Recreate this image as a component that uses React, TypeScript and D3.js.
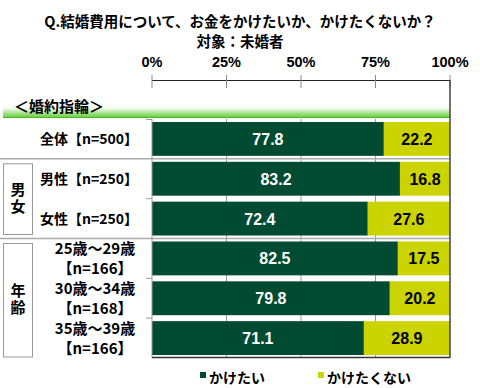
import React from "react"
import * as d3 from "d3"

// chart data
const labels = [
    ["全体【n=500】"],
    ["男性【n=250】"],
    ["女性【n=250】"],
    ["25歳～29歳", "【n=166】"],
    ["30歳～34歳", "【n=168】"],
    ["35歳～39歳", "【n=166】"],
]
const wantValues = [77.8, 83.2, 72.4, 82.5, 79.8, 71.1]
const dontValues = [22.2, 16.8, 27.6, 17.5, 20.2, 28.9]
const groupNames = ["男女", "年齢"]
const groupRows = [[1, 2], [3, 5]]
const tickValues = [0, 25, 50, 75, 100]
const seriesNames = ["かけたい", "かけたくない"]
const title = "Q.結婚費用について、お金をかけたいか、かけたくないか？"
const subtitle = "対象：未婚者"
const sectionLabel = "＜婚約指輪＞"

const W = 480
const H = 388
const colors = ["#004b32", "#cbd400"]
const font = "'Noto Sans CJK JP', 'Noto Sans', sans-serif"
const numFont = "'Liberation Sans', Arial, sans-serif"

export default function App() {
    const x = d3.scaleLinear().domain([0, 100]).range([152, 450])
    const idx = labels.map((_, i) => i)
    const y = d3
        .scaleBand<number>()
        .domain(idx)
        .range([119, 358])
        .paddingInner(0.15)
        .paddingOuter(0.075)
    const step = y.step()
    const bw = y.bandwidth()
    const rowTop = (i: number) => (y(i) as number) - (step - bw) / 2
    const rowBottom = (i: number) => rowTop(i) + step

    return (
        <svg
            width={W}
            height={H}
            style={{ position: "absolute", left: 0, top: 0, background: "#fff" }}
        >
            <defs>
                <linearGradient id="band" x1="0" y1="0" x2="0" y2="1">
                    <stop offset="0%" stopColor="#ffffff" />
                    <stop offset="35%" stopColor="#f2fbee" />
                    <stop offset="100%" stopColor="#5ccc2c" />
                </linearGradient>
            </defs>

            {/* titles */}
            <text x={240} y={27} textAnchor="middle" fontFamily={font} fontWeight="bold" fontSize={14.5}>
                {title}
            </text>
            <text x={240} y={47} textAnchor="middle" fontFamily={font} fontWeight="bold" fontSize={14.5}>
                {subtitle}
            </text>

            {/* top axis */}
            {tickValues.map(t => (
                <text
                    key={"tl" + t}
                    x={x(t)}
                    y={67}
                    textAnchor="middle"
                    fontFamily={numFont}
                    fontWeight="bold"
                    fontSize={14.5}
                >
                    {t}%
                </text>
            ))}
            <line x1={x(0)} x2={x(100)} y1={80.5} y2={80.5} stroke="#222" strokeWidth={1} />
            {tickValues.map(t => (
                <line key={"tk" + t} x1={x(t)} x2={x(t)} y1={75} y2={88} stroke="#888" />
            ))}

            {/* section band */}
            <rect x={3} y={103} width={x(100) - 3} height={15} fill="url(#band)" />
            <line x1={3} x2={x(100)} y1={117.5} y2={117.5} stroke="#4cb824" />
            <text x={14} y={112} fontFamily={font} fontWeight="bold" fontSize={15}>
                {sectionLabel}
            </text>

            {/* gridlines */}
            {tickValues.slice(1, 4).map(t => (
                <line key={"g" + t} x1={x(t)} x2={x(t)} y1={119} y2={358} stroke="#999" />
            ))}

            {/* row separators */}
            {idx.slice(0, -1).map(i => {
                const full = i === 0 || i === 2
                const yy = rowBottom(i)
                return (
                    <line
                        key={"sep" + i}
                        x1={full ? 0 : 146}
                        x2={full ? x(100) : x(0)}
                        y1={yy}
                        y2={yy}
                        stroke={full ? "#aaa" : "#999"}
                        strokeWidth={full ? 1.5 : 1}
                    />
                )
            })}
            <line x1={146} x2={x(0)} y1={119.5} y2={119.5} stroke="#999" />

            {/* bars */}
            {idx.map(i => (
                <g key={"b" + i}>
                    <rect
                        x={x(0)}
                        y={y(i)}
                        width={x(wantValues[i]) - x(0)}
                        height={bw}
                        fill={colors[0]}
                    />
                    <rect
                        x={x(wantValues[i])}
                        y={y(i)}
                        width={x(100) - x(wantValues[i])}
                        height={bw}
                        fill={colors[1]}
                    />
                    <text
                        x={x(wantValues[i] / 2)}
                        y={(y(i) as number) + bw / 2 + 6}
                        textAnchor="middle"
                        fill="#fff"
                        fontFamily={numFont}
                        fontWeight="bold"
                        fontSize={16}
                    >
                        {wantValues[i].toFixed(1)}
                    </text>
                    <text
                        x={x(wantValues[i] + dontValues[i] / 2)}
                        y={(y(i) as number) + bw / 2 + 6}
                        textAnchor="middle"
                        fill="#000"
                        fontFamily={numFont}
                        fontWeight="bold"
                        fontSize={16}
                    >
                        {dontValues[i].toFixed(1)}
                    </text>
                </g>
            ))}

            {/* plot frame */}
            <line x1={x(0)} x2={x(0)} y1={119} y2={358} stroke="#999" />
            <line x1={x(100)} x2={x(100)} y1={80} y2={358} stroke="#444" strokeWidth={1.5} />
            <line x1={x(0)} x2={x(100)} y1={357.5} y2={357.5} stroke="#333" strokeWidth={1.5} />

            {/* row labels */}
            {idx.map(i => {
                const c = (y(i) as number) + bw / 2
                if (labels[i].length === 1) {
                    return (
                        <text
                            key={"l" + i}
                            x={138}
                            y={c + 5}
                            textAnchor="end"
                            fontFamily={font}
                            fontWeight="bold"
                            fontSize={14}
                        >
                            {labels[i][0]}
                        </text>
                    )
                }
                return (
                    <text
                        key={"l" + i}
                        x={95}
                        textAnchor="middle"
                        fontFamily={font}
                        fontWeight="bold"
                        fontSize={15}
                    >
                        <tspan x={95} y={c - 4}>{labels[i][0]}</tspan>
                        <tspan x={95} y={c + 16}>{labels[i][1]}</tspan>
                    </text>
                )
            })}

            {/* group boxes */}
            {groupNames.map((g, gi) => {
                const top = rowTop(groupRows[gi][0]) + 5
                const bottom = gi === groupNames.length - 1 ? 357 : rowBottom(groupRows[gi][1]) - 4
                const mid = (top + bottom) / 2
                return (
                    <g key={"grp" + g}>
                        <rect x={3.5} y={top} width={29} height={bottom - top} fill="#fff" stroke="#999" />
                        <text
                            x={18}
                            y={mid}
                            textAnchor="middle"
                            fontFamily={font}
                            fontWeight="bold"
                            fontSize={15}
                            letterSpacing={2}
                            style={{ writingMode: "vertical-rl" }}
                        >
                            {g}
                        </text>
                    </g>
                )
            })}

            {/* legend */}
            {seriesNames.map((s, i) => {
                const lx = i === 0 ? 200 : 318
                return (
                    <g key={"lg" + s}>
                        <rect x={lx} y={372} width={6} height={6} fill={colors[i]} />
                        <text x={lx + 9} y={383} fontFamily={font} fontWeight="bold" fontSize={14}>
                            {s}
                        </text>
                    </g>
                )
            })}
        </svg>
    )
}
